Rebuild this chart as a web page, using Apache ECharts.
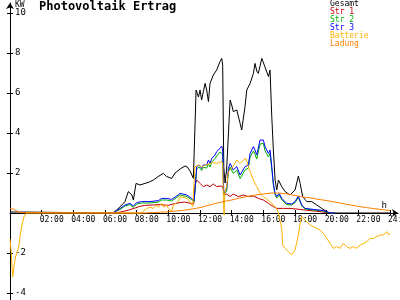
<!DOCTYPE html>
<html><head><meta charset="utf-8">
<script src="https://cdn.jsdelivr.net/npm/echarts@6/dist/echarts.min.js"></script>
<style>html,body{margin:0;padding:0;background:#fff}#c{width:400px;height:300px}</style>
</head><body><div id="c"></div>
<script>
const seriesNames = ['Gesamt', 'Str 1', 'Str 2', 'Str 3', 'Batterie', 'Ladung'];
const hourTicks = [2, 4, 6, 8, 10, 12, 14, 16, 18, 20, 22, 24];
const kwTicks = [-4, -2, 2, 4, 6, 8, 10];

const gesamt = [[0,0.05],[0.6,0.05],[0.65,0],[6.5,0],[6.74,0.15],[7.0,0.35],[7.26,0.57],[7.47,1.07],[7.58,1.15],[7.7,0.9],[7.79,0.65],[7.9,1.2],[7.96,1.48],[8.21,1.4],[8.4,1.45],[8.53,1.48],[8.8,1.55],[9.05,1.65],[9.35,1.82],[9.68,1.98],[9.9,1.82],[10.21,1.73],[10.42,2.0],[10.53,2.05],[10.74,2.2],[11.05,2.35],[11.2,2.3],[11.37,2.1],[11.58,1.73],[11.68,1.8],[11.75,6.15],[11.9,5.8],[12.0,6.15],[12.1,5.65],[12.21,6.07],[12.32,6.48],[12.42,6.15],[12.53,5.57],[12.63,6.48],[12.84,6.9],[13.05,7.15],[13.26,7.57],[13.37,7.73],[13.43,7.4],[13.5,2.3],[13.58,1.5],[13.68,2.2],[13.9,5.65],[14.0,5.4],[14.1,5.07],[14.32,5.15],[14.53,4.48],[14.63,4.15],[14.84,5.32],[14.95,6.15],[15.16,6.48],[15.37,6.98],[15.47,7.48],[15.58,7.1],[15.68,6.98],[15.9,7.73],[16.0,7.82],[16.17,7.15],[16.32,6.82],[16.42,7.15],[16.53,4.82],[16.63,3.15],[16.74,1.65],[16.84,1.15],[16.95,1.65],[17.16,1.32],[17.37,1.07],[17.68,0.9],[18.0,1.15],[18.21,1.85],[18.32,1.48],[18.48,0.82],[18.74,0.57],[19.05,0.57],[19.37,0.4],[19.68,0.23],[20.0,0.07],[20.2,0],[24,0]];

const str3 = [[6.5,0],[6.74,0.12],[7.0,0.25],[7.26,0.4],[7.58,0.48],[7.79,0.35],[8.0,0.52],[8.32,0.57],[8.84,0.57],[9.37,0.62],[9.58,0.73],[9.9,0.73],[10.21,0.68],[10.53,0.85],[10.74,0.98],[11.16,0.9],[11.47,0.73],[11.62,0.6],[11.68,1.15],[11.79,2.32],[11.94,2.4],[12.1,2.23],[12.2,2.4],[12.42,2.4],[12.53,2.65],[12.63,2.48],[12.74,2.73],[12.95,2.9],[13.05,3.07],[13.26,3.23],[13.37,3.35],[13.43,3.1],[13.5,0.98],[13.6,0.95],[13.68,1.2],[13.79,2.23],[13.9,2.48],[14.1,2.15],[14.32,2.32],[14.53,1.9],[14.63,1.82],[14.84,2.32],[15.05,2.4],[15.16,2.98],[15.37,3.32],[15.47,3.15],[15.58,2.9],[15.79,3.65],[16.0,3.65],[16.1,3.32],[16.21,3.32],[16.32,2.98],[16.42,3.15],[16.53,2.32],[16.63,1.48],[16.74,0.98],[16.84,0.82],[17.0,0.98],[17.16,0.73],[17.47,0.48],[17.79,0.45],[18.0,0.57],[18.21,0.85],[18.3,0.65],[18.42,0.4],[18.63,0.23],[19.16,0.18],[19.79,0.12],[20.1,0.03],[20.3,0],[20.5,0]];

const str2 = [[6.5,0],[6.74,0.1],[7.0,0.2],[7.26,0.35],[7.58,0.42],[7.79,0.28],[8.0,0.45],[8.32,0.5],[8.84,0.5],[9.37,0.55],[9.58,0.65],[9.9,0.65],[10.21,0.6],[10.53,0.78],[10.74,0.9],[11.16,0.82],[11.47,0.66],[11.62,0.55],[11.68,1.05],[11.79,2.2],[11.94,2.3],[12.1,2.12],[12.2,2.28],[12.42,2.25],[12.53,2.45],[12.63,2.3],[12.74,2.55],[12.95,2.72],[13.05,2.85],[13.26,3.05],[13.37,3.15],[13.43,2.95],[13.5,0.9],[13.6,0.88],[13.68,1.1],[13.79,2.05],[13.9,2.3],[14.1,1.98],[14.32,2.15],[14.53,1.72],[14.63,1.65],[14.84,2.15],[15.05,2.25],[15.16,2.8],[15.37,3.1],[15.47,2.95],[15.58,2.7],[15.79,3.45],[16.0,3.48],[16.1,3.12],[16.21,3.15],[16.32,2.8],[16.42,2.98],[16.53,2.2],[16.63,1.38],[16.74,0.9],[16.84,0.75],[17.0,0.9],[17.16,0.66],[17.47,0.42],[17.79,0.4],[18.0,0.52],[18.21,0.78],[18.3,0.6],[18.42,0.36],[18.63,0.2],[19.16,0.15],[19.79,0.1],[20.1,0.02],[20.3,0],[20.5,0]];

const str1 = [[6.5,0],[7.0,0.05],[7.5,0.15],[7.9,0.25],[8.2,0.33],[8.5,0.38],[9.0,0.4],[9.5,0.42],[10.0,0.38],[10.3,0.45],[10.6,0.5],[11.0,0.55],[11.3,0.5],[11.6,0.45],[11.68,1.4],[11.79,1.65],[12.0,1.48],[12.2,1.32],[12.42,1.4],[12.63,1.32],[12.84,1.45],[13.05,1.32],[13.26,1.35],[13.43,1.33],[13.52,0.9],[13.68,0.95],[13.9,0.82],[14.1,0.95],[14.42,0.82],[14.74,0.9],[15.05,0.82],[15.37,0.85],[15.68,0.73],[16.0,0.65],[16.32,0.48],[16.63,0.32],[16.84,0.23],[17.26,0.23],[17.68,0.23],[18.32,0.18],[18.95,0.12],[19.58,0.07],[20.0,0.02],[20.3,0],[20.5,0]];

const batterie = [[0,-1.3],[0.08,-2.0],[0.17,-3.2],[0.25,-2.7],[0.35,-2.2],[0.45,-2.1],[0.55,-1.7],[0.65,-1.1],[0.75,-0.6],[0.88,-0.2],[1.05,0],[8.3,0],[8.42,0.07],[8.63,0.23],[8.74,0.15],[8.84,0.28],[9.05,0.23],[9.26,0.4],[9.37,0.28],[9.58,0.48],[9.7,0.3],[9.9,0.4],[10.0,0.23],[10.1,0.15],[10.2,0.07],[10.32,0.4],[10.42,0.48],[10.63,0.57],[10.74,0.82],[11.16,0.73],[11.37,0.57],[11.54,0.32],[11.62,0.3],[11.68,2.32],[11.9,2.4],[12.1,2.3],[12.3,2.38],[12.63,2.48],[12.84,2.52],[13.05,2.48],[13.37,2.57],[13.43,2.45],[13.48,0.5],[13.52,-0.1],[13.56,1.0],[13.68,1.32],[13.79,2.07],[14.0,2.23],[14.2,2.48],[14.32,2.65],[14.53,2.48],[14.74,2.65],[14.9,2.73],[14.99,2.82],[15.05,2.32],[15.16,2.07],[15.37,1.65],[15.58,1.32],[15.79,0.98],[16.0,0.82],[16.21,0.68],[16.42,0.57],[16.63,0.4],[16.84,0.23],[16.95,0],[17.05,-0.1],[17.16,-0.77],[17.22,-1.6],[17.37,-1.77],[17.58,-1.93],[17.79,-2.1],[18.0,-1.85],[18.21,-1.1],[18.32,-0.52],[18.42,-0.18],[18.53,-0.1],[18.63,-0.35],[18.74,-0.27],[18.95,-0.6],[19.16,-0.68],[19.37,-0.77],[19.58,-0.85],[19.79,-1.02],[20.0,-1.27],[20.21,-1.52],[20.42,-1.77],[20.63,-1.68],[20.84,-1.77],[21.05,-1.52],[21.26,-1.68],[21.47,-1.77],[21.68,-1.68],[21.9,-1.77],[22.1,-1.6],[22.32,-1.52],[22.53,-1.43],[22.74,-1.27],[22.95,-1.27],[23.16,-1.18],[23.37,-1.1],[23.58,-1.1],[23.79,-0.93],[23.9,-1.1],[24.0,-1.02]];

const ladung = [[0,0.22],[0.2,0.2],[0.4,0.12],[0.6,0.02],[0.7,0],[8.5,0],[9.0,0.02],[9.5,0.04],[10.0,0.06],[10.5,0.1],[11.0,0.14],[11.5,0.2],[12.0,0.27],[12.5,0.38],[13.0,0.48],[13.5,0.58],[14.0,0.65],[14.5,0.75],[15.0,0.83],[15.5,0.9],[16.0,0.95],[16.5,1.0],[17.0,1.0],[17.5,0.95],[18.0,0.88],[18.5,0.8],[19.0,0.75],[19.5,0.68],[20.0,0.62],[20.5,0.55],[21.0,0.47],[21.5,0.4],[22.0,0.33],[22.5,0.27],[23.0,0.22],[23.5,0.17],[24.0,0.12]];

const colors = ['#000000', '#c00000', '#00b000', '#0000ff', '#ffb000', '#ff8000'];
const allData = [gesamt, str1, str2, str3, batterie, ladung];
const FONT = 'DejaVu Sans Mono';
const Y_MIN = -4.35, Y_MAX = 10.5, GRID_TOP = 3, GRID_H = 297;
const zeroOffset = -Math.round(GRID_H * (0 - Y_MIN) / (Y_MAX - Y_MIN));

const chart = echarts.init(document.getElementById('c'), null, {renderer: 'canvas'});
chart.setOption({
  animation: false,
  backgroundColor: '#ffffff',
  title: {
    text: 'Photovoltaik Ertrag', left: 39, top: 1, padding: 0,
    textStyle: {fontFamily: FONT, fontSize: 12, fontWeight: 'bold', color: '#000'}
  },
  legend: {
    orient: 'vertical', left: 325, top: 0, padding: 0, itemGap: 0,
    itemWidth: 0, itemHeight: 8, icon: 'none', selectedMode: false,
    textStyle: {fontFamily: FONT, fontSize: 8, lineHeight: 8},
    data: seriesNames.map((n, i) => ({name: n, textStyle: {color: colors[i]}}))
  },
  grid: {left: 10, right: 2, top: GRID_TOP, height: GRID_H, containLabel: false, outerBoundsMode: 'none'},
  xAxis: [{
    type: 'value', min: 0, max: 24.5, position: 'bottom', offset: zeroOffset,
    name: 'h', nameLocation: 'end', nameGap: -11,
    nameTextStyle: {fontFamily: FONT, fontSize: 9, color: '#000', align: 'right', verticalAlign: 'bottom', padding: [0, 0, 3, 0]},
    axisLine: {show: true, onZero: false, symbol: ['none', 'arrow'], symbolSize: [6, 6], lineStyle: {color: '#000', width: 1}},
    axisTick: {show: true, inside: false, length: 2, customValues: hourTicks, lineStyle: {color: '#000'}},
    axisLabel: {show: true, customValues: hourTicks, formatter: v => (v < 10 ? '0' : '') + v + ':00',
      fontFamily: FONT, fontSize: 8, color: '#000', margin: 3, align: 'center', padding: [0, 0, 0, 20]},
    splitLine: {show: false}
  }, {
    type: 'value', min: 0, max: 24.5, position: 'bottom', offset: zeroOffset,
    axisLine: {show: false, onZero: false},
    axisTick: {show: true, inside: true, length: 3, customValues: hourTicks, lineStyle: {color: '#000'}},
    axisLabel: {show: false}, splitLine: {show: false}
  }],
  yAxis: [{
    type: 'value', min: Y_MIN, max: Y_MAX, position: 'left',
    name: 'KW', nameLocation: 'end', nameGap: 1,
    nameTextStyle: {fontFamily: FONT, fontSize: 8, color: '#000', align: 'left', verticalAlign: 'top', padding: [0, 0, 0, 5]},
    axisLine: {show: true, onZero: false, symbol: ['none', 'arrow'], symbolSize: [6, 6], lineStyle: {color: '#000', width: 1}},
    axisTick: {show: true, inside: false, length: 3, customValues: kwTicks, lineStyle: {color: '#000'}},
    axisLabel: {show: true, inside: true, customValues: kwTicks, fontFamily: FONT, fontSize: 9, color: '#000', margin: 5},
    splitLine: {show: false}
  }, {
    type: 'value', min: Y_MIN, max: Y_MAX, position: 'left', alignTicks: false,
    axisLine: {show: false, onZero: false},
    axisTick: {show: true, inside: true, length: 3, customValues: kwTicks, lineStyle: {color: '#000'}},
    axisLabel: {show: false}, splitLine: {show: false}
  }],
  series: seriesNames.map((n, i) => ({
    name: n, type: 'line', xAxisIndex: 0, yAxisIndex: 0,
    data: allData[i], showSymbol: false, symbol: 'none',
    color: colors[i], lineStyle: {width: 1, color: colors[i]},
    z: 2 + i
  }))
});
</script></body></html>
